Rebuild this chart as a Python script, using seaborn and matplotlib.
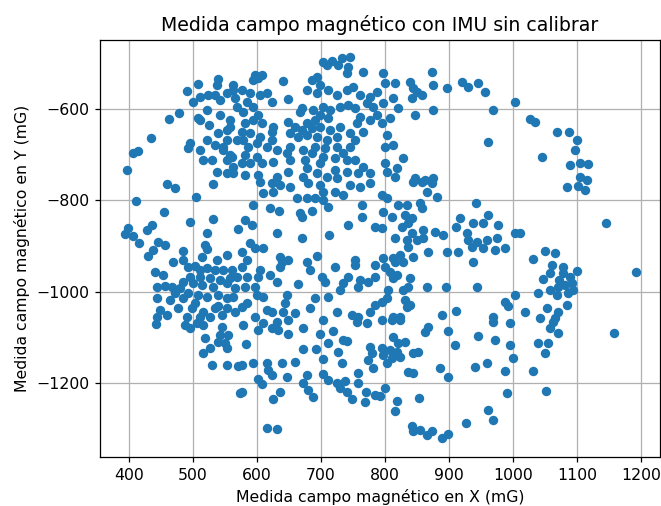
import matplotlib
matplotlib.use("Agg")
import matplotlib.pyplot as plt
import seaborn as sns
import pandas as pd

# Magnetometer readings (mG), grouped by picture region
pts_nw = [(539,-534),(537,-547),(508,-545),(491,-561),(563,-547),(553,-565),(534,-569),(523,-569),(511,-574),(500,-585),
          (542,-580),(566,-576),(522,-602),(508,-620),(511,-624),(525,-635),(542,-613),(558,-624),(553,-646),(539,-653),
          (478,-609),(462,-622),(434,-663),(495,-674),(492,-685),(511,-690),(522,-668),(534,-679),(547,-690),(558,-701),
          (516,-712),(530,-712),(537,-738),(553,-740),(563,-727),(406,-697),(414,-692),(397,-733),(459,-764),(472,-773),
          (411,-801),(563,-558),(569,-596),(558,-639),(553,-668),(569,-668),(561,-705),(547,-683),(563,-740),(553,-712)]

pts_n = [(703,-497),(717,-495),(733,-488),(745,-486),(709,-504),(726,-504),(742,-508),(741,-521),(766,-519),(597,-526),
         (608,-526),(602,-532),(641,-539),(594,-537),(686,-536),(694,-530),(678,-558),(698,-547),(711,-558),(725,-569),
         (741,-558),(750,-552),(761,-569),(777,-574),(787,-563),(577,-558),(589,-565),(605,-569),(616,-565),(623,-585),
         (648,-578),(694,-565),(584,-585),(594,-596),(578,-607),(602,-613),(608,-631),(594,-624),(581,-631),(577,-650),
         (589,-653),(605,-661),(623,-650),(625,-639),(670,-598),(667,-607),(688,-602),(703,-596),(714,-602),(730,-596),
         (742,-591),(753,-598),(772,-587),(781,-596),(761,-618),(777,-624),(787,-613),(698,-613),(711,-620),(691,-624),
         (678,-631),(686,-642),(698,-639),(714,-646),(648,-628),(659,-639),(670,-646),(652,-653),(664,-661),(678,-657),
         (694,-661),(709,-668),(725,-661),(745,-653),(730,-639),(756,-631),(766,-650),(753,-668),(745,-683),(734,-697),
         (725,-683),(706,-685),(691,-683),(686,-697),(703,-705),(698,-718),(722,-707),(741,-712),(753,-712),(766,-727),
         (777,-740),(758,-740),(741,-738),(722,-734),(678,-729),(675,-712),(672,-690),(652,-683),(623,-668),(631,-690),
         (616,-683),(600,-675),(586,-683),(578,-668),(581,-701),(600,-705),(608,-718),(589,-718),(577,-718),(625,-716),
         (647,-697),(652,-712),(648,-738),(631,-749),(602,-745),(581,-745),(672,-749),(694,-740),(709,-749),(725,-751)]

pts_ne = [(873,-519),(797,-521),(800,-543),(816,-543),(839,-541),(875,-547),(897,-554),(920,-541),(930,-552),(945,-543),
          (956,-563),(1003,-585),(969,-602),(961,-672),(844,-554),(850,-563),(858,-569),(842,-576),(812,-576),(820,-598),
          (797,-587),(875,-602),(847,-613),(808,-620),(795,-631),(803,-657),(812,-679),(800,-683),(828,-707),(800,-718),
          (819,-729),(803,-738),(816,-749),(847,-751),(862,-755),(875,-751)]

pts_far_ne = [(1027,-622),(1034,-628),(1069,-650),(1088,-650),(1100,-668),(1097,-690),(1045,-705),(1089,-723),
              (1105,-718),(1117,-720),(1105,-749),(1116,-755)]

pts_e = [(1084,-771),(1102,-769),(1113,-777),(1145,-850),(1192,-957),(1011,-872),(1050,-911),(1066,-915),(1031,-929),
         (1061,-942),(1078,-946),(1100,-955),(1078,-959),(1058,-959),(1047,-972),(1072,-975),(1089,-968),(1092,-981),
         (1081,-985),(1070,-990),(1058,-996),(1094,-996),(1086,-1003),(1069,-1007),(1039,-1003),(1084,-1029),
         (1053,-1036),(1070,-1044),(1019,-1044),(1042,-1058),(1066,-1058)]

pts_se = [(1062,-1066),(1058,-1080),(1070,-1091),(1158,-1091),(1039,-1112),(1055,-1112),(1050,-1134),(1031,-1174),
          (1052,-1218)]

pts_s = [(811,-1062),(823,-1062),(867,-1077),(862,-1088),(898,-1086),(909,-1117),(945,-1097),(972,-1106),(995,-1117),
         (1000,-1145),(969,-1066),(995,-1069),(812,-1099),(831,-1110),(820,-1112),(795,-1123),(808,-1128),(819,-1132),
         (797,-1139),(811,-1145),(823,-1143),(803,-1156),(844,-1134),(852,-1132),(836,-1176),(844,-1178),(886,-1167),
         (898,-1187),(941,-1165),(959,-1156),(988,-1174),(800,-1211),(792,-1229),(819,-1240),(816,-1261),(853,-1233),
         (991,-1222),(961,-1259),(969,-1281),(927,-1287),(842,-1294),(844,-1305),(855,-1303),(866,-1314),(873,-1305),
         (889,-1321),(898,-1312)]

pts_sc = [(578,-1073),(602,-1084),(609,-1069),(623,-1080),(633,-1084),(631,-1066),(648,-1062),(648,-1093),(672,-1080),
          (698,-1093),(703,-1062),(719,-1086),(711,-1112),(734,-1106),(741,-1108),(583,-1115),(672,-1126),(692,-1126),
          (727,-1132),(703,-1147),(733,-1156),(577,-1161),(594,-1156),(616,-1156),(639,-1156),(659,-1154),(617,-1172),
          (623,-1183),(647,-1187),(678,-1183),(602,-1191),(608,-1202),(672,-1200),(680,-1215),(687,-1231),(703,-1180),
          (711,-1193),(725,-1200),(737,-1196),(730,-1211),(741,-1220),(748,-1235),(758,-1178),(758,-1200),(769,-1242),
          (784,-1226),(770,-1220),(777,-1121),(780,-1134),(773,-1150),(781,-1167),(756,-1066),(772,-1069),(577,-1220),
          (636,-1220),(625,-1235),(616,-1299),(631,-1301)]

pts_sw = [(442,-1071),(487,-1073),(495,-1080),(506,-1069),(516,-1073),(545,-1077),(542,-1095),(555,-1095),(519,-1101),
          (539,-1110),(550,-1112),(527,-1123),(516,-1134),(553,-1123),(530,-1161),(553,-1161),(570,-1163),(573,-1222)]

pts_w = [(531,-764),(505,-793),(455,-826),(495,-847),(531,-841),(398,-861),(394,-874),(406,-878),(416,-893),(428,-865),
         (436,-854),(522,-872),(570,-863),(445,-891),(456,-898),(438,-909),(430,-922),(519,-898),(522,-907),(484,-911),
         (484,-931),(553,-920),(514,-924),(469,-935),(537,-931),(492,-946),(503,-944),(511,-953),(522,-948),(534,-953),
         (547,-953),(561,-953),(441,-957),(453,-964),(495,-968),(511,-968),(527,-970),(542,-975),(558,-970),(569,-968),
         (484,-979),(500,-981),(514,-985),(531,-990),(553,-981),(566,-992),(444,-990),(456,-988),(467,-990),(480,-992),
         (472,-1003),(492,-1003),(508,-1007),(484,-1014),(464,-1018),(444,-1014),(522,-1012),(539,-1007),(553,-1014),
         (563,-1012),(503,-1025),(477,-1036),(448,-1040),(498,-1036),(516,-1044),(534,-1036),(539,-1031),(553,-1036),
         (566,-1044),(444,-1055),(459,-1051),(490,-1055),(511,-1055),(527,-1055),(545,-1051)]

pts_c = [(605,-760),(623,-762),(636,-766),(652,-771),(625,-782),(609,-784),(680,-762),(698,-766),(703,-782),(722,-782),
         (734,-788),(745,-766),(761,-771),(777,-762),(662,-795),(678,-795),(691,-795),(703,-799),(711,-815),(594,-810),
         (620,-817),(634,-823),(667,-828),(670,-837),(686,-823),(764,-810),(764,-837),(742,-854),(784,-858),(581,-843),
         (592,-854),(631,-872),(670,-883),(712,-876),(589,-893),(597,-904),(609,-904),(577,-913),(584,-931),(577,-946),
         (636,-924),(639,-935),(648,-931),(636,-946),(678,-935),(694,-922),(683,-953),(722,-946),(753,-931),(753,-942),
         (784,-942),(605,-953),(602,-968),(620,-964),(584,-968),(631,-979),(664,-983),(701,-968),(706,-979),(742,-968),
         (734,-981),(730,-996),(761,-975),(758,-990),(773,-979),(784,-968),(581,-990),(597,-990),(600,-1007),(609,-1012),
         (647,-1007),(644,-1025),(683,-1036),(711,-1012),(691,-1014),(725,-1044),(584,-1025),(577,-1033),(616,-1040),
         (623,-1044),(641,-1044),(659,-1047),(597,-1055),(748,-1051),(758,-1055),(777,-1044),(784,-1029)]

pts_ce = [(844,-760),(858,-760),(873,-762),(866,-782),(881,-793),(795,-788),(803,-795),(820,-810),(834,-810),(855,-806),
          (858,-817),(942,-806),(797,-826),(811,-837),(831,-832),(842,-839),(917,-839),(937,-850),(961,-832),(953,-850),
          (977,-854),(911,-858),(928,-872),(795,-861),(827,-858),(836,-850),(842,-872),(859,-865),(878,-869),(891,-876),
          (816,-883),(834,-887),(850,-887),(859,-883),(930,-887),(944,-891),(959,-887),(975,-883),(1003,-872),(936,-902),
          (953,-904),(972,-909),(988,-904),(867,-913),(897,-913),(914,-913),(836,-902),(823,-920),(844,-924),(812,-926),
          (797,-926),(937,-935),(828,-935),(816,-935),(800,-946),(808,-957),(819,-964),(812,-970),(839,-970),(836,-990),
          (828,-996),(866,-990),(895,-990),(944,-990),(805,-996),(803,-1014),(795,-1022),(831,-1018),(834,-1033),
          (839,-1029),(911,-1042),(889,-1051),(969,-1055),(988,-1022),(1003,-1007),(992,-1031),(812,-1055),(823,-1055),
          (795,-1062)]

all_pts = pts_nw + pts_n + pts_ne + pts_far_ne + pts_e + pts_se + pts_s + pts_sc + pts_sw + pts_w + pts_c + pts_ce
df = pd.DataFrame(all_pts, columns=["mx", "my"])

DPI = 113
fig = plt.figure(figsize=(661 / DPI, 506 / DPI), dpi=DPI)
ax = fig.add_axes([100 / 661, 1 - 457 / 506, 560 / 661, 417 / 506])
ax.set_axisbelow(True)
sns.scatterplot(data=df, x="mx", y="my", ax=ax, color="#1f77b4", s=36, linewidth=0, alpha=1, zorder=2)
ax.set_xlim(354.7, 1229.7)
ax.set_ylim(-1362, -449)
ax.grid(True)
ax.set_title("Medida campo magnético con IMU sin calibrar")
ax.set_xlabel("Medida campo magnético en X (mG)")
ax.set_ylabel("Medida campo magnético en Y (mG)")
fig.savefig("out.png", dpi=DPI)
